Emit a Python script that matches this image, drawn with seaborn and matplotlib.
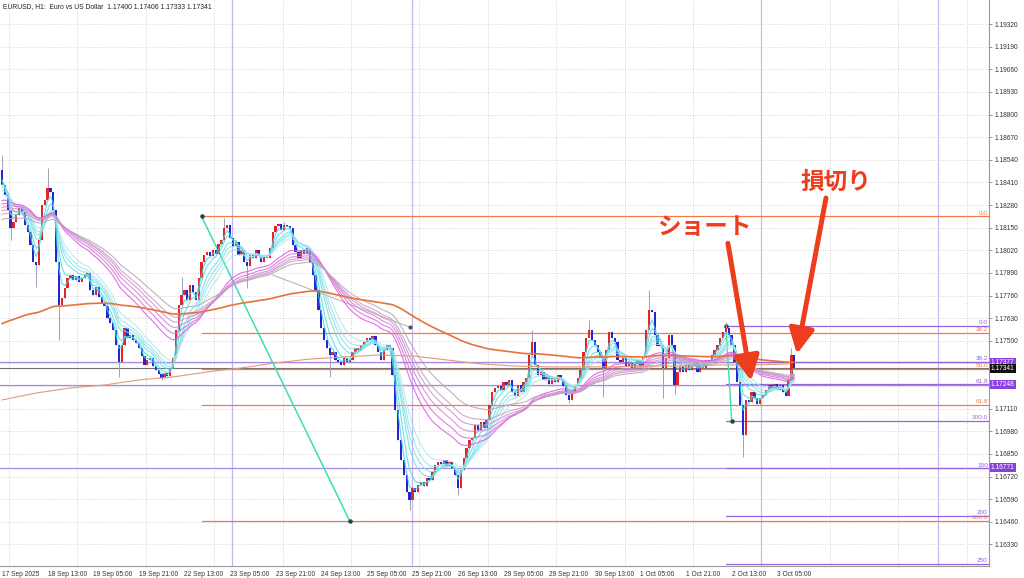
import numpy as np
import pandas as pd
import seaborn as sns
import matplotlib.pyplot as plt
from matplotlib.transforms import blended_transform_factory

# EURUSD H1 closes, one list per trading day (17 Sep 21:00 -> 3 Oct 12:00)
close_d1 = [1.18395, 1.18338, 1.18252, 1.18148, 1.18183, 1.18223, 1.18263, 1.18240,
            1.18165, 1.18125, 1.18051, 1.17953, 1.17936, 1.18079, 1.18280, 1.18309,
            1.18378, 1.18355, 1.18252, 1.17953, 1.17706, 1.17746, 1.17803, 1.17861]
close_d2 = [1.17878, 1.17850, 1.17872, 1.17838, 1.17861, 1.17878, 1.17890, 1.17792,
            1.17763, 1.17809, 1.17752, 1.17717, 1.17700, 1.17631, 1.17602, 1.17562,
            1.17476, 1.17378, 1.17476, 1.17574, 1.17516, 1.17534, 1.17505, 1.17487]
close_d3 = [1.17459, 1.17413, 1.17361, 1.17390, 1.17401, 1.17355, 1.17332, 1.17309,
            1.17286, 1.17315, 1.17298, 1.17344, 1.17401, 1.17562, 1.17706, 1.17763,
            1.17792, 1.17735, 1.17821, 1.17780, 1.17735, 1.17861, 1.17953, 1.17993]
close_d4 = [1.18010, 1.17987, 1.18022, 1.17999, 1.18056, 1.18079, 1.18148, 1.18165,
            1.18091, 1.18045, 1.18068, 1.17993, 1.18022, 1.17953, 1.17930, 1.17993,
            1.17976, 1.18022, 1.17987, 1.17953, 1.17993, 1.17976, 1.18033, 1.18125]
close_d5 = [1.18160, 1.18171, 1.18137, 1.18165, 1.18160, 1.18148, 1.18051, 1.18010,
            1.17976, 1.18022, 1.17999, 1.18033, 1.17953, 1.17878, 1.17792, 1.17677,
            1.17574, 1.17505, 1.17459, 1.17419, 1.17436, 1.17390, 1.17378, 1.17361]
close_d6 = [1.17401, 1.17378, 1.17390, 1.17436, 1.17459, 1.17447, 1.17476, 1.17493,
            1.17516, 1.17505, 1.17528, 1.17476, 1.17436, 1.17390, 1.17447, 1.17476,
            1.17459, 1.17304, 1.17103, 1.16930, 1.16815, 1.16729, 1.16631, 1.16586]
close_d7 = [1.16654, 1.16631, 1.16672, 1.16689, 1.16666, 1.16712, 1.16700, 1.16746,
            1.16787, 1.16804, 1.16792, 1.16815, 1.16781, 1.16804, 1.16769, 1.16729,
            1.16654, 1.16758, 1.16827, 1.16884, 1.16930, 1.16942, 1.17016, 1.16988]
close_d8 = [1.17034, 1.16999, 1.17045, 1.17131, 1.17206, 1.17229, 1.17240, 1.17217,
            1.17263, 1.17246, 1.17275, 1.17206, 1.17183, 1.17246, 1.17206, 1.17263,
            1.17286, 1.17419, 1.17493, 1.17361, 1.17304, 1.17321, 1.17275, 1.17298]
close_d9 = [1.17252, 1.17286, 1.17263, 1.17304, 1.17275, 1.17240, 1.17189, 1.17160,
            1.17206, 1.17246, 1.17286, 1.17332, 1.17436, 1.17516, 1.17562, 1.17505,
            1.17476, 1.17436, 1.17401, 1.17344, 1.17447, 1.17551, 1.17516, 1.17493]
close_d10 = [1.17390, 1.17378, 1.17401, 1.17355, 1.17378, 1.17344, 1.17367, 1.17390,
             1.17355, 1.17401, 1.17562, 1.17677, 1.17666, 1.17534, 1.17470, 1.17476,
             1.17344, 1.17401, 1.17534, 1.17476, 1.17246, 1.17321, 1.17355, 1.17321]
close_d11 = [1.17361, 1.17332, 1.17355, 1.17378, 1.17321, 1.17361, 1.17344, 1.17390,
             1.17378, 1.17419, 1.17447, 1.17476, 1.17516, 1.17551, 1.17574, 1.17534,
             1.17476, 1.17378, 1.17263, 1.17131, 1.16959, 1.17160, 1.17148, 1.17206]
close_d12 = [1.17172, 1.17137, 1.17172, 1.17189, 1.17217, 1.17246, 1.17229, 1.17252,
             1.17217, 1.17246, 1.17206, 1.17183, 1.17275, 1.17419, 1.17341]
first_open = 1.18480

# wick extremes that stick out of the bodies
hi_bars = [0, 16, 63, 78, 99, 186, 206, 227, 254, 277]
hi_vals = [1.18570, 1.18493, 1.17867, 1.18206, 1.18183, 1.17562, 1.17620, 1.17792, 1.17608, 1.17459]
lo_bars = [3, 12, 20, 41, 56, 86, 115, 143, 160, 199, 211, 232, 236, 260]
lo_vals = [1.18079, 1.17809, 1.17505, 1.17292, 1.17275, 1.17803, 1.17292, 1.16528, 1.16614,
           1.17143, 1.17177, 1.17171, 1.17194, 1.16833]

# GMMA periods and their values at the first bar
gmma_short = [3, 5, 8, 10, 12, 15]
gmma_long = [30, 35, 40, 45, 50, 60]
seed_short = [1.18455, 1.18430, 1.18400, 1.18380, 1.18360, 1.18330]
seed_long = [1.18300, 1.18280, 1.18260, 1.18240, 1.18220, 1.18190]
ema200_seed = 1.17590
# slow MA read every 12 bars
slow_ma = [1.17160, 1.17200, 1.17229, 1.17246, 1.17275, 1.17292, 1.17321, 1.17344,
           1.17373, 1.17395, 1.17407, 1.17418, 1.17413, 1.17390, 1.17367, 1.17355,
           1.17350, 1.17350, 1.17350, 1.17355, 1.17355, 1.17361, 1.17361, 1.17367]

# fibonacci objects
fib1_bars = [70, 122]
fib1_prices = [1.18215, 1.16465]
fib1_levels = [0.0, 38.2, 50.0, 61.8, 100.0]
fib1_names = ["0.0", "38.2", "50.0", "61.8", "100.0"]
fib2_bars = [254, 256]
fib2_prices = [1.17587, 1.17040]
fib2_levels = [0.0, 38.2, 61.8, 100.0, 150.0, 200.0, 250.0]
fib2_names = ["0.0", "38.2", "61.8", "100.0", "150", "200", "250"]
hline_prices = [1.17377, 1.17248, 1.16771]
bid = 1.17341
trend_bars = [95, 143]
trend_prices = [1.17878, 1.17579]

xtick_names = ["17 Sep 2025", "18 Sep 13:00", "19 Sep 05:00", "19 Sep 21:00", "22 Sep 13:00",
               "23 Sep 05:00", "23 Sep 21:00", "24 Sep 13:00", "25 Sep 05:00", "25 Sep 21:00",
               "26 Sep 13:00", "29 Sep 05:00", "29 Sep 21:00", "30 Sep 13:00", "1 Oct 05:00",
               "1 Oct 21:00", "2 Oct 13:00", "3 Oct 05:00"]

# annotations (bar, price)
short_text = (246.3, 1.18150)
stop_text = (292.6, 1.18413)
arrow1 = [(254.7, 1.18060), (262.8, 1.17269)]
arrow2 = [(289.1, 1.18320), (278.9, 1.17424)]

closes = (close_d1 + close_d2 + close_d3 + close_d4 + close_d5 + close_d6 + close_d7 +
          close_d8 + close_d9 + close_d10 + close_d11 + close_d12)
n = len(closes)
bars = np.arange(n)
c = np.array(closes)
o = np.array([first_open] + closes[:-1])
hi = np.maximum(o, c)
lo = np.minimum(o, c)
hi[hi_bars] = hi_vals
lo[lo_bars] = lo_vals

sns.set_theme(style="white")
plt.rcParams['font.family'] = ['Liberation Sans', 'Noto Sans CJK JP', 'DejaVu Sans']

fig = plt.figure(figsize=(10.24, 5.78), dpi=100)
ax = fig.add_axes([0, 12 / 578, 989 / 1024, 566 / 578])
ax.set_xlim(-0.7, 346.3)
ax.set_ylim(1.16206, 1.19458)

# grid
price_ticks = np.round(np.arange(1.16330, 1.19321, 0.0013), 5)
for p in price_ticks:
    ax.axhline(p, color="#c8c8c8", lw=0.6, ls=(0, (1, 2)), zorder=0)
for gx in np.arange(2.46, 346, 24):
    ax.axvline(gx, color="#c0c0c0", lw=0.6, ls=(0, (1, 2)), zorder=0)
for vx in [80.7, 143.9, 266.3, 328.4]:
    ax.axvline(vx, color="#c4b8ee", lw=0.9, zorder=0)

# full width horizontal lines
for p in hline_prices:
    ax.axhline(p, color="#a58ae6", lw=0.9, zorder=1)
ax.axhline(bid, color="#707070", lw=0.8, zorder=1)

# fib levels
rng1 = fib1_prices[0] - fib1_prices[1]
for lv, nm in zip(fib1_levels, fib1_names):
    p = fib1_prices[0] - lv / 100 * rng1
    ax.plot([fib1_bars[0], 346.3], [p, p], color="#f07a48", lw=0.9, zorder=1)
    ax.text(345.9, p + 0.00004, nm, color="#f07a48", fontsize=4.6, ha="right", va="bottom")
rng2 = fib2_prices[0] - fib2_prices[1]
for lv, nm in zip(fib2_levels, fib2_names):
    p = fib2_prices[0] - lv / 100 * rng2
    ax.plot([fib2_bars[0], 346.3], [p, p], color="#9563e2", lw=0.9, zorder=1)
    ax.text(345.9, p + 0.00004, nm, color="#9563e2", fontsize=4.6, ha="right", va="bottom")
ax.plot(fib1_bars, fib1_prices, color="#3ddcb4", lw=1.1, zorder=2)
ax.plot(fib2_bars, fib2_prices, color="#3ddcb4", lw=1.0, zorder=2)
ax.scatter(fib1_bars + fib2_bars, fib1_prices + fib2_prices, s=5, color="#1c4c3c", zorder=3)
ax.plot(trend_bars, trend_prices, color="#b8aca4", lw=0.7, zorder=1)
ax.scatter([trend_bars[1]], [trend_prices[1]], s=4, color="#505070", zorder=3)

# candles
up = c >= o
ax.vlines(bars, lo, hi, color="#a49cb8", lw=0.7, zorder=3)
body = np.maximum(np.abs(c - o), 0.00003)
bottom = np.minimum(o, c)
ax.bar(bars[up], body[up], bottom=bottom[up], width=0.8,
       color="#e52424", zorder=4, linewidth=0)
ax.bar(bars[~up], body[~up], bottom=bottom[~up], width=0.8,
       color="#2424d6", zorder=4, linewidth=0)

# moving averages
rows = []
pal = {}
short_cols = ["#3fd6e6", "#55dae4", "#6ddde2", "#86e0e6", "#9ce3ea", "#b0e7ee"]
long_cols = ["#e055e4", "#da6cda", "#d282d4", "#ca92ca", "#c29fc6", "#b9a2b9"]
for per, seed, col in zip(gmma_short + gmma_long, seed_short + seed_long, short_cols + long_cols):
    s = pd.Series([seed] + closes).ewm(span=per, adjust=False).mean().iloc[1:].values
    name = "EMA%d" % per
    pal[name] = col
    rows.append(pd.DataFrame({"bar": bars, "price": s, "line": name}))
gmma = pd.concat(rows)
sns.lineplot(data=gmma, x="bar", y="price", hue="line", palette=pal, legend=False,
             linewidth=0.8, alpha=0.85, ax=ax, zorder=5)
ema200 = pd.Series([ema200_seed] + closes).ewm(span=200, adjust=False).mean().iloc[1:].values
sns.lineplot(x=bars, y=ema200, color="#e5733a", linewidth=1.2, ax=ax, zorder=5)
sns.lineplot(x=np.arange(0, n, 12), y=slow_ma, color="#e39a7a", linewidth=0.8, ax=ax, zorder=5)

# axes - tick labels hidden behind the price boxes are left blank, as in MT4
covered = [1.17370, 1.17240]
ax.yaxis.tick_right()
ax.set_yticks(price_ticks)
ax.set_yticklabels(["" if round(p, 5) in covered else "%.5f" % p for p in price_ticks])
ax.set_xticks(np.arange(0, 16 * len(xtick_names), 16))
ax.set_xticklabels(xtick_names, ha="left")
ax.tick_params(axis="both", labelsize=4.8, length=2.5, width=0.6, color="#888888",
               labelcolor="#333333", pad=1.2)
ax.set_xlabel("")
ax.set_ylabel("")
for side in ["left", "top"]:
    ax.spines[side].set_visible(False)
for side in ["right", "bottom"]:
    ax.spines[side].set_color("#9a9a9a")
    ax.spines[side].set_linewidth(0.8)

tr = blended_transform_factory(ax.transAxes, ax.transData)
for p, txt in zip(hline_prices, ["1.17377", "1.17248", "1.16771"]):
    ax.text(1.002, p, txt, transform=tr, fontsize=4.8, color="white", ha="left", va="center",
            bbox=dict(boxstyle="square,pad=0.15", fc="#8a3fe0", ec="none"), zorder=10, clip_on=False)
ax.text(1.002, bid - 0.00002, "1.17341", transform=tr, fontsize=4.8, color="white", ha="left",
        va="center", bbox=dict(boxstyle="square,pad=0.15", fc="#111111", ec="none"), zorder=11,
        clip_on=False)

ax.text(0.003, 0.995, "EURUSD, H1:  Euro vs US Dollar  1.17400 1.17406 1.17333 1.17341",
        transform=ax.transAxes, fontsize=4.9, color="#222222", ha="left", va="top")

# trade notes
red = "#ee3c1e"
for a in [arrow1, arrow2]:
    ax.annotate("", xy=a[1], xytext=a[0],
                arrowprops=dict(arrowstyle="-|>,head_width=0.38,head_length=0.75", lw=3.6,
                                color=red, mutation_scale=20, shrinkA=0, shrinkB=0), zorder=12)
ax.text(*short_text, "ショート", fontsize=17, fontweight="bold", color=red,
        ha="center", va="center", zorder=12)
ax.text(*stop_text, "損切り", fontsize=17, fontweight="bold", color=red,
        ha="center", va="center", zorder=12)

fig.savefig("out.png", dpi=100)
